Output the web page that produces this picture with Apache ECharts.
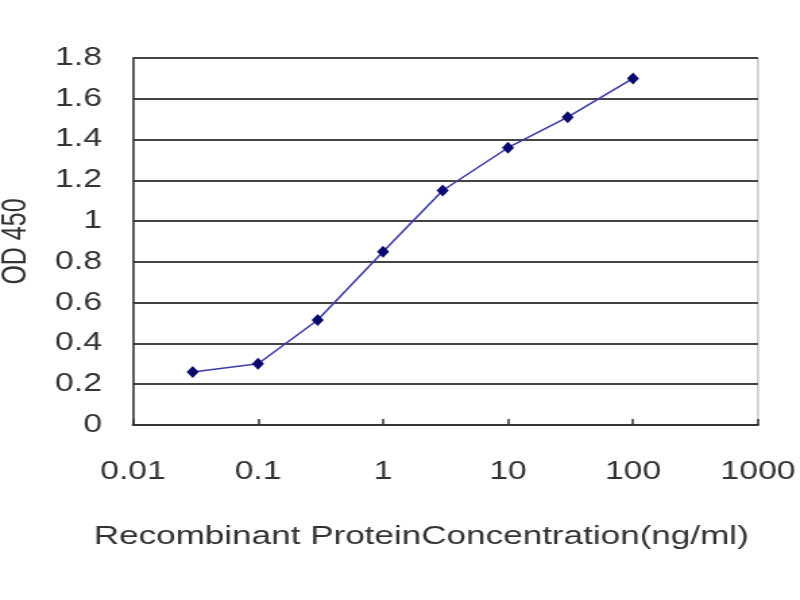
<!DOCTYPE html>
<html>
<head>
<meta charset="utf-8">
<script src="https://cdn.jsdelivr.net/npm/echarts@6/dist/echarts.min.js"></script>
<style>
  html, body { margin: 0; padding: 0; background: #fff; overflow: hidden; }
  /* the source picture is a horizontally stretched export, so draw narrow and stretch */
  #chart { width: 593px; height: 600px; transform: scaleX(1.349); transform-origin: 0 0; }
</style>
</head>
<body>
<div id="chart"></div>
<script>
// concentration (ng/ml) and OD 450 readings
var concentrations = [0.03, 0.1, 0.3, 1, 3, 10, 30, 100];
var odValues = [0.26, 0.30, 0.515, 0.85, 1.15, 1.36, 1.51, 1.70];
var xTitle = 'Recombinant ProteinConcentration(ng/ml)';
var yTitle = 'OD 450';

var dom = document.getElementById('chart');
var myChart = echarts.init(dom);

var points = concentrations.map(function(c, i) {
    return [c, odValues[i]];
});

var option = {
    backgroundColor: '#fff',
    animation: false,
    textStyle: {
        fontFamily: 'Liberation Sans, Arial, sans-serif'
    },
    grid: {
        left: 98.6,
        right: 31.1,
        top: 58,
        bottom: 175,
        outerBoundsMode: 'none',
        show: true,
        borderColor: '#aaa',
        borderWidth: 1
    },
    xAxis: {
        type: 'log',
        logBase: 10,
        min: 0.01,
        max: 1000,
        name: xTitle,
        nameLocation: 'middle',
        nameGap: 99,
        nameTextStyle: {
            fontSize: 26,
            color: '#333',
            padding: [0, 36, 0, 0]
        },
        axisLine: {
            lineStyle: { color: '#333', width: 2 }
        },
        axisTick: {
            show: true,
            inside: true,
            length: 6,
            lineStyle: { color: '#333', width: 1.5 }
        },
        axisLabel: {
            fontSize: 25,
            color: '#333',
            margin: 35,
            formatter: function(v) {
                return String(parseFloat(v.toPrecision(3)));
            }
        },
        splitLine: { show: false }
    },
    yAxis: {
        type: 'value',
        min: 0,
        max: 1.8,
        interval: 0.2,
        name: yTitle,
        nameLocation: 'middle',
        nameRotate: 90,
        nameGap: 74,
        nameTextStyle: {
            fontSize: 25,
            color: '#333'
        },
        axisLine: {
            show: true,
            lineStyle: { color: '#333', width: 1.5 }
        },
        axisTick: { show: false },
        axisLabel: {
            fontSize: 25,
            color: '#333',
            margin: 23,
            formatter: function(v) {
                return String(parseFloat(v.toFixed(1)));
            }
        },
        splitLine: {
            lineStyle: { color: '#444', width: 2 }
        }
    },
    series: [{
        type: 'line',
        data: points,
        symbol: 'diamond',
        symbolSize: [9, 12],
        itemStyle: {
            color: '#0a0a6e'
        },
        lineStyle: {
            color: '#3c3ca8',
            width: 1.5
        }
    }]
};
myChart.setOption(option, true);
</script>
</body>
</html>
